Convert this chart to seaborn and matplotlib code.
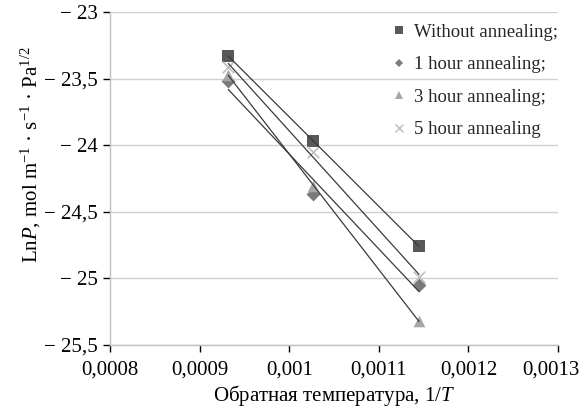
import numpy as np
import pandas as pd
import matplotlib
matplotlib.use("Agg")
import matplotlib.pyplot as plt
import matplotlib.transforms as mtransforms
from matplotlib.lines import Line2D
import seaborn as sns

# ---- data ----
inv_T = [0.000932, 0.001027, 0.001145]
without_annealing = [-23.33, -23.97, -24.76]
hour1_annealing = [-23.52, -24.37, -25.05]
hour3_annealing = [-23.47, -24.31, -25.32]
hour5_annealing = [-23.41, -24.05, -24.99]
series_names = ["Without annealing;", "1 hour annealing;", "3 hour annealing;", "5 hour annealing"]
x_ticks = [0.0008, 0.0009, 0.0010, 0.0011, 0.0012, 0.0013]
x_tick_labels = ["0,0008", "0,0009", "0,001", "0,0011", "0,0012", "0,0013"]
y_ticks = [-23, -23.5, -24, -24.5, -25, -25.5]
y_tick_labels = ["− 23", "− 23,5", "− 24", "− 24,5", "− 25", "− 25,5"]

values = [without_annealing, hour1_annealing, hour3_annealing, hour5_annealing]
df = pd.DataFrame({
    "x": inv_T * 4,
    "y": sum(values, []),
    "series": np.repeat(series_names, len(inv_T)),
})

sns.set_theme(style="white")
plt.rcParams["font.family"] = ["Liberation Serif", "DejaVu Serif"]
plt.rcParams["mathtext.fontset"] = "custom"
plt.rcParams["mathtext.rm"] = "Liberation Serif"
plt.rcParams["mathtext.it"] = "Liberation Serif:italic"

colors = {"Without annealing;": "#595959", "1 hour annealing;": "#7a7a7a",
          "3 hour annealing;": "#a6a6a6", "5 hour annealing": "#bfbfbf"}
markers = {"Without annealing;": "s", "1 hour annealing;": "D",
           "3 hour annealing;": "^", "5 hour annealing": "x"}
sizes = {"Without annealing;": 80, "1 hour annealing;": 50,
         "3 hour annealing;": 70, "5 hour annealing": 70}

fig = plt.figure(figsize=(5.82, 4.08), dpi=100)
ax = fig.add_axes([110 / 582, 1 - 345 / 408, 448 / 582, 333 / 408])

for name in series_names:
    sub = df[df["series"] == name]
    ax.scatter(sub["x"], sub["y"], marker=markers[name], s=sizes[name],
               color=colors[name], linewidths=1.2 if markers[name] == "x" else 0, zorder=3)
    sns.regplot(data=sub, x="x", y="y", ax=ax, scatter=False, ci=None, truncate=True,
                line_kws={"color": "#3a3a3a", "lw": 0.9, "zorder": 4})

ax.set_xlim(0.0008, 0.0013)
ax.set_ylim(-25.5, -23)
ax.set_xticks(x_ticks)
ax.set_xticklabels(x_tick_labels)
ax.set_yticks(y_ticks)
ax.set_yticklabels(y_tick_labels)
ax.tick_params(axis="both", labelsize=15, colors="black", length=5, width=1, direction="out",
               left=True, bottom=True)
ax.tick_params(axis="x", pad=6)
for t in ax.get_xticklines() + ax.get_yticklines():
    t.set_color("#c0c0c0")
ax.yaxis.grid(True, color="#d0d0d0", lw=1)
ax.xaxis.grid(False)
for s in ["top", "right"]:
    ax.spines[s].set_visible(False)
for s in ["left", "bottom"]:
    ax.spines[s].set_color("#c0c0c0")
    ax.spines[s].set_linewidth(1)

# keep the last x tick label inside the figure
last = ax.get_xticklabels()[-1]
last.set_transform(last.get_transform() + mtransforms.ScaledTranslation(-7 / 100, 0, fig.dpi_scale_trans))

ax.set_xlabel("Обратная температура, 1/$T$", fontsize=15, color="black")
ax.xaxis.set_label_coords(0.5, -(395 - 345) / 333)
ax.xaxis.label.set_va("center")
ax.set_ylabel(r"Ln$P$, mol m$^{-1}$ · s$^{-1}$ · Pa$^{1/2}$", fontsize=15, color="black")
ax.yaxis.set_label_coords(-(110 - 31) / 448, (345 - 155) / 333)
ax.yaxis.label.set_va("center")

handles = [Line2D([], [], marker=markers[n], color=colors[n], linestyle="none",
                  markersize=6 if markers[n] != "D" else 4.5, markeredgewidth=1 if markers[n] == "x" else 0)
           for n in series_names]
ax.legend(handles, series_names, loc="upper right", bbox_to_anchor=(1.009, 0.976), frameon=False,
          fontsize=13.5, handlelength=0.8, handletextpad=0.4, labelspacing=0.82,
          borderaxespad=0.0, borderpad=0.2)

fig.savefig("out.png", dpi=100)
